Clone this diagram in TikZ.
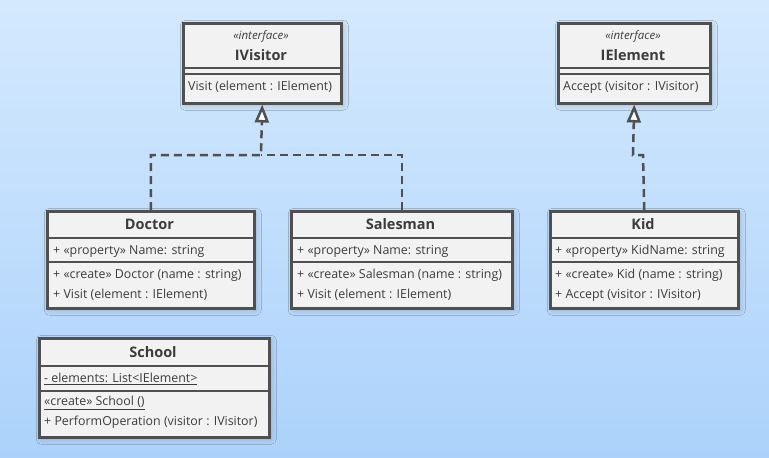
\documentclass[tikz,border=0pt]{standalone}
\usepackage{fontspec}
\setmainfont{Open Sans}
\usetikzlibrary{arrows.meta,shadows.blur}
\definecolor{bgtop}{HTML}{D4E9FE}
\definecolor{bgbot}{HTML}{ACD2FB}
\definecolor{boxfill}{HTML}{F2F2F2}
\definecolor{edge}{HTML}{505050}
\definecolor{ink}{HTML}{3C3C3C}
\tikzset{
  cls/.style={draw=edge, line width=2.5pt, fill=boxfill, rectangle, anchor=north west, inner sep=0pt,
    blur shadow={shadow xshift=2pt, shadow yshift=-2pt, shadow blur radius=5pt, shadow opacity=20}},
  sep/.style={draw=edge, line width=2.5pt},
  mem/.style={anchor=west, inner sep=0pt, text=ink, font=\fontsize{12.4}{14}\selectfont},
  ttl/.style={anchor=center, inner sep=0pt, text=ink, font=\fontsize{14.5}{16}\selectfont\bfseries},
  stereo/.style={anchor=center, inner sep=0pt, text=ink, font=\fontsize{11.5}{13}\selectfont\itshape},
  realize/.style={draw=edge, line width=2.5pt, dash pattern=on 8pt off 5pt},
  hollow/.style={-{Triangle[open, length=18pt, width=14pt, fill=white, line width=2.5pt]}}
}
\begin{document}
\begin{tikzpicture}[x=1pt,y=-1pt]
\useasboundingbox (0,0) rectangle (769,458);
\shade[top color=bgtop, bottom color=bgbot] (0,0) rectangle (769,458);

% IVisitor
\node[cls, minimum width=158pt, minimum height=80pt] (ivisitor) at (182,22) {};
\node[stereo] (ivisitor-st) at (261,36) {«interface»};
\node[ttl] (ivisitor-t) at (261,55) {IVisitor};
\draw[sep] (182,68) -- (340,68);
\draw[sep] (182,74) -- (340,74);
\node[mem] (ivisitor-o1) at (188,87) {Visit (element : IElement)};

% IElement
\node[cls, minimum width=152pt, minimum height=80pt] (ielement) at (557,22) {};
\node[stereo] (ielement-st) at (633,36) {«interface»};
\node[ttl] (ielement-t) at (633,55) {IElement};
\draw[sep] (557,68) -- (709,68);
\draw[sep] (557,74) -- (709,74);
\node[mem] (ielement-o1) at (563,87) {Accept (visitor : IVisitor)};

% Doctor
\node[cls, minimum width=207pt, minimum height=97pt] (doctor) at (46,210) {};
\node[ttl] (doctor-t) at (149.5,224) {Doctor};
\draw[sep] (46,238) -- (253,238);
\node[mem] (doctor-a1) at (53,251) {+ «property» Name: string};
\draw[sep] (46,262) -- (253,262);
\node[mem] (doctor-o1) at (53,275) {+ «create» Doctor (name : string)};
\node[mem] (doctor-o2) at (53,295) {+ Visit (element : IElement)};

% Salesman
\node[cls, minimum width=221pt, minimum height=97pt] (salesman) at (290,210) {};
\node[ttl] (salesman-t) at (400.5,224) {Salesman};
\draw[sep] (290,238) -- (511,238);
\node[mem] (salesman-a1) at (297,251) {+ «property» Name: string};
\draw[sep] (290,262) -- (511,262);
\node[mem] (salesman-o1) at (297,275) {+ «create» Salesman (name : string)};
\node[mem] (salesman-o2) at (297,295) {+ Visit (element : IElement)};

% Kid
\node[cls, minimum width=188pt, minimum height=97pt] (kid) at (549,210) {};
\node[ttl] (kid-t) at (643,224) {Kid};
\draw[sep] (549,238) -- (737,238);
\node[mem] (kid-a1) at (555,251) {+ «property» KidName: string};
\draw[sep] (549,262) -- (737,262);
\node[mem] (kid-o1) at (555,275) {+ «create» Kid (name : string)};
\node[mem] (kid-o2) at (555,295) {+ Accept (visitor : IVisitor)};

% School
\node[cls, minimum width=230pt, minimum height=99pt] (school) at (38,337) {};
\node[ttl] (school-t) at (153,352) {School};
\draw[sep] (38,366) -- (268,366);
\node[mem] (school-a1) at (44,379) {\underline{- elements: List<IElement>}};
\draw[sep] (38,391) -- (268,391);
\node[mem] (school-o1) at (44,403) {\underline{«create» School ()}};
\node[mem] (school-o2) at (44,422) {+ PerformOperation (visitor : IVisitor)};

% connectors
\coordinate (jv) at (261,155);
\coordinate (jk1) at (643,155);
\coordinate (jk2) at (633,155);
\draw[realize] (salesman.north) |- (jv);
\draw[realize, hollow] (doctor.north) |- (jv) -- (ivisitor.south);
\draw[realize, hollow] (kid.north) -- (jk1) -- (jk2) -- (ielement.south);
\end{tikzpicture}
\end{document}
